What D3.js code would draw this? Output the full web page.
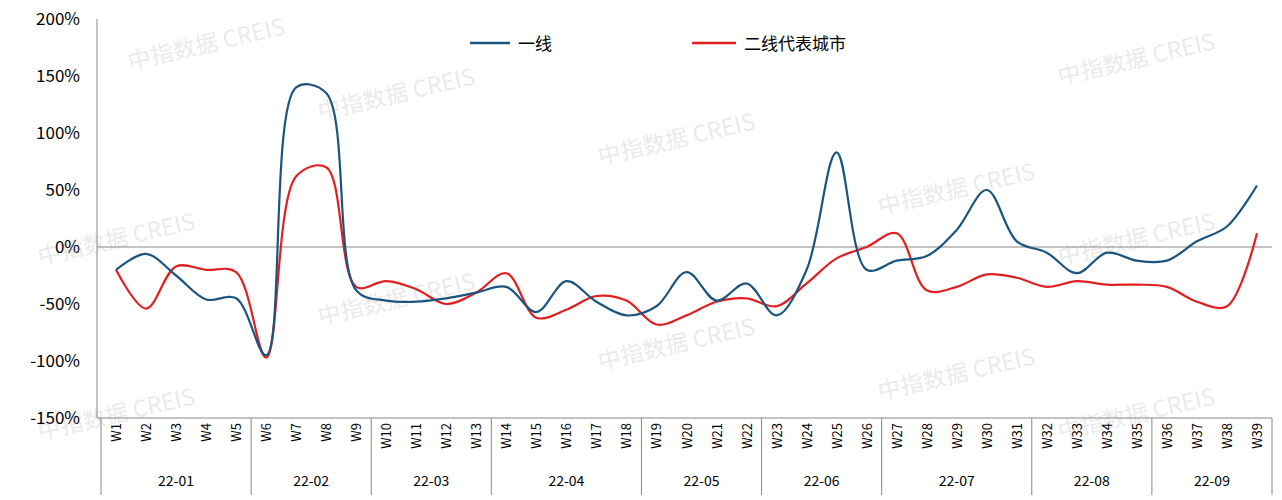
<!DOCTYPE html><html><head><meta charset="utf-8"><script src="https://cdn.jsdelivr.net/npm/d3@7"></script>
<style>body{margin:0;background:#fff}text{font-family:"Noto Sans CJK SC","Noto Sans",sans-serif}</style></head><body><svg id="c" width="1282" height="500"></svg><script>
const weeks=d3.range(1,40).map(i=>"W"+i);
const tier1=[-20,-6,-25,-46,-45,-95,140,135,-38,-47,-48,-45,-40,-35,-57,-30,-48,-60,-52,-22,-47,-32,-60,-20,83,-20,-12,-8,15,50,5,-5,-23,-5,-12,-12,5,18,54];
const tier2=[-20,-54,-17,-20,-22,-97,62,70,-35,-30,-37,-50,-40,-23,-62,-55,-43,-47,-68,-60,-48,-45,-52,-32,-10,0,12,-38,-35,-24,-27,-35,-30,-33,-33,-35,-48,-52,12];
const months=[["22-01",1,5],["22-02",6,9],["22-03",10,13],["22-04",14,18],["22-05",19,22],["22-06",23,26],["22-07",27,31],["22-08",32,35],["22-09",36,39]];
const yTicks=[200,150,100,50,0,-50,-100,-150];
const svg=d3.select("#c");
const x=d3.scaleBand().domain(weeks).range([101,1272]);
const y=d3.scaleLinear().domain([-150,200]).range([418,19]);
const wm=[[130,70],[320,120],[600,165],[880,215],[1060,85],[40,265],[320,325],[600,370],[880,400],[1060,265],[40,440],[1060,440]];
wm.forEach(([a,b])=>svg.append("text").attr("transform",`translate(${a},${b}) rotate(-13)`).attr("font-size",23).attr("fill","#000").attr("opacity",0.08).text("中指数据 CREIS"));
svg.append("line").attr("x1",97).attr("x2",97).attr("y1",19).attr("y2",418).attr("stroke","#888");
yTicks.forEach(t=>svg.append("text").attr("x",80).attr("y",y(t)+6).attr("text-anchor","end").attr("font-size",17).attr("fill","#000").text(t+"%"));
svg.append("line").attr("x1",97).attr("x2",1272).attr("y1",y(0)).attr("y2",y(0)).attr("stroke","#888");
svg.append("line").attr("x1",97).attr("x2",1272).attr("y1",418).attr("y2",418).attr("stroke","#888");
weeks.forEach(w=>svg.append("text").attr("transform",`translate(${x(w)+x.bandwidth()/2+5},423) rotate(-90)`).attr("text-anchor","end").attr("font-size",13).text(w));
svg.append("line").attr("x1",101).attr("x2",101).attr("y1",418).attr("y2",495).attr("stroke","#888");
months.forEach(([m,a,b])=>{const x1=x("W"+a),x2=x("W"+b)+x.bandwidth();
svg.append("line").attr("x1",x2).attr("x2",x2).attr("y1",418).attr("y2",495).attr("stroke","#888");
svg.append("text").attr("x",(x1+x2)/2).attr("y",486).attr("text-anchor","middle").attr("font-size",14).text(m);});
const line=d3.line().x((d,i)=>x(weeks[i])+x.bandwidth()/2).y(d=>y(d)).curve(d3.curveCatmullRom.alpha(0.5));
svg.append("path").attr("d",line(tier2)).attr("fill","none").attr("stroke","#e02020").attr("stroke-width",2.2);
svg.append("path").attr("d",line(tier1)).attr("fill","none").attr("stroke","#1b557f").attr("stroke-width",2.2);
svg.append("line").attr("x1",470).attr("x2",510).attr("y1",43).attr("y2",43).attr("stroke","#1b557f").attr("stroke-width",2.5);
svg.append("text").attr("x",518).attr("y",50).attr("font-size",17).text("一线");
svg.append("line").attr("x1",692).attr("x2",736).attr("y1",43).attr("y2",43).attr("stroke","#e02020").attr("stroke-width",2.5);
svg.append("text").attr("x",744).attr("y",50).attr("font-size",17).text("二线代表城市");
</script></body></html>
